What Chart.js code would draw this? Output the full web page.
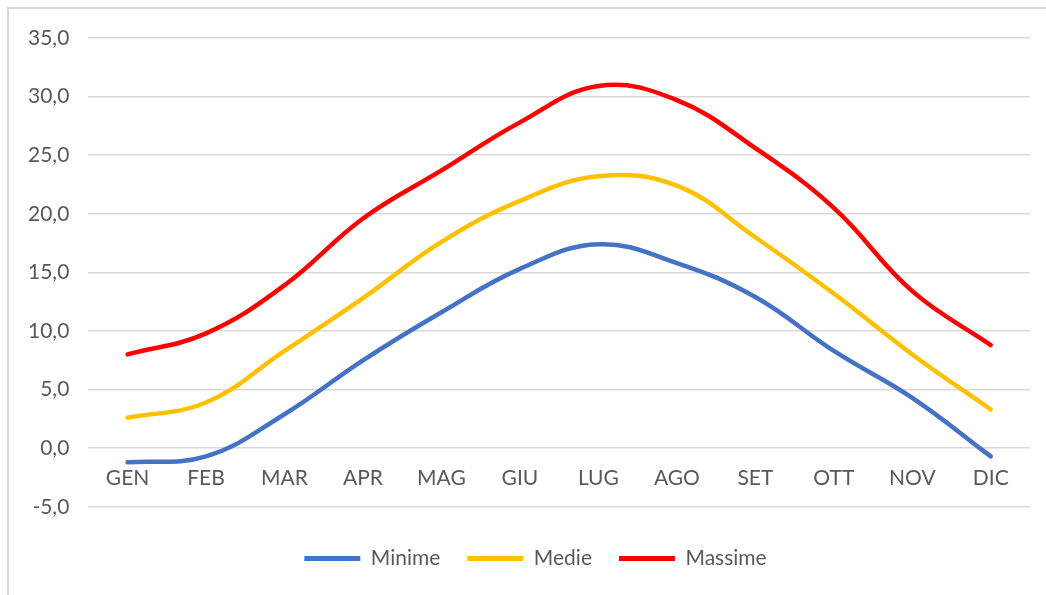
<!DOCTYPE html>
<html>
<head>
<meta charset="utf-8">
<script src="https://cdn.jsdelivr.net/npm/chart.js@4/dist/chart.umd.min.js"></script>
<style>
  html, body { margin: 0; padding: 0; background: #fff; overflow: hidden; }
  #wrap { position: relative; width: 1046px; height: 595px; }
  #frame { position: absolute; left: 7px; top: 7px; width: 1100px; height: 700px;
           border-top: 2px solid #d9d9d9; border-left: 2px solid #d9d9d9; }
  canvas { position: absolute; left: 0; top: 0; }
</style>
</head>
<body>
<div id="wrap">
  <div id="frame"></div>
  <canvas id="temp-chart" width="1046" height="595"></canvas>
</div>
<script>
const months = ['GEN', 'FEB', 'MAR', 'APR', 'MAG', 'GIU', 'LUG', 'AGO', 'SET', 'OTT', 'NOV', 'DIC'];
const minime = [-1.2, -0.7, 2.9, 7.5, 11.6, 15.3, 17.4, 15.8, 12.9, 8.3, 4.3, -0.7];
const medie = [2.6, 3.9, 8.3, 12.8, 17.6, 21.1, 23.2, 22.4, 18.0, 13.2, 8.0, 3.3];
const massime = [8.0, 9.8, 13.9, 19.6, 23.7, 27.8, 30.9, 29.7, 25.6, 20.5, 13.4, 8.8];
const yTicks = [-5, 0, 5, 10, 15, 20, 25, 30, 35];

const fontFamily = 'Lato, "Liberation Sans", sans-serif';
const textColor = '#595959';

const ctx = document.getElementById('temp-chart').getContext('2d');

function serie(label, data, color) {
  return {
    label: label,
    data: data,
    borderColor: color,
    backgroundColor: color,
    borderWidth: 4.5,
    tension: 0.4,
    pointRadius: 0,
    borderCapStyle: 'round',
    fill: false
  };
}

// nudge the legend a bit to the right, like in the Excel original
const legendShift = {
  id: 'legendShift',
  afterLayout(chart) {
    if (chart.legend) {
      chart.legend.left += 16;
      chart.legend.right += 16;
    }
  }
};

const myChart = new Chart(ctx, {
  type: 'line',
  data: {
    labels: months,
    datasets: [
      serie('Minime', minime, '#4472c4'),
      serie('Medie', medie, '#ffc000'),
      serie('Massime', massime, '#ff0000')
    ]
  },
  plugins: [legendShift],
  options: {
    responsive: false,
    animation: false,
    layout: { padding: { left: 9, right: 16, top: 38, bottom: 16 } },
    plugins: {
      tooltip: { enabled: false },
      legend: {
        position: 'bottom',
        // empty title only used as spacer above the legend items
        title: { display: true, text: '', font: { size: 1 }, padding: { top: 0, bottom: 13 } },
        labels: {
          color: textColor,
          font: { family: fontFamily, size: 21 },
          boxWidth: 56,
          boxHeight: 5,
          padding: 27,
          generateLabels: function (chart) {
            const items = Chart.defaults.plugins.legend.labels.generateLabels(chart);
            items.forEach(function (it) { it.lineWidth = 0; });
            return items;
          }
        }
      }
    },
    scales: {
      x: {
        position: { y: 0 },
        offset: true,
        grid: { display: false, drawTicks: false },
        border: { display: false },
        ticks: { color: textColor, font: { family: fontFamily, size: 21 }, padding: 17 }
      },
      y: {
        min: -5,
        max: 35,
        afterBuildTicks: function (axis) {
          axis.ticks = yTicks.map(function (v) { return { value: v }; });
        },
        grid: { color: '#d9d9d9', lineWidth: 1.5, drawTicks: false },
        border: { display: false },
        ticks: {
          color: textColor,
          font: { family: fontFamily, size: 21 },
          padding: 19,
          callback: function (v) { return v.toFixed(1).replace('.', ','); }
        }
      }
    }
  }
});
</script>
</body>
</html>
